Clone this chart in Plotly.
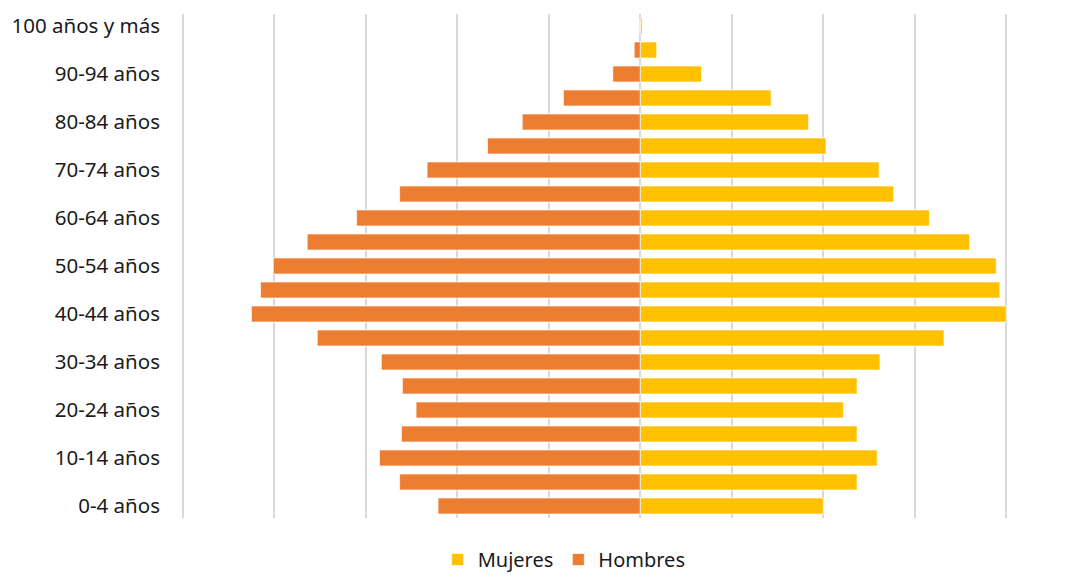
import plotly.graph_objects as go

edades = ["0-4 años", "5-9 años", "10-14 años", "15-19 años", "20-24 años", "25-29 años",
          "30-34 años", "35-39 años", "40-44 años", "45-49 años", "50-54 años", "55-59 años",
          "60-64 años", "65-69 años", "70-74 años", "75-79 años", "80-84 años", "85-89 años",
          "90-94 años", "95-99 años", "100 años y más"]

mujeres = [2.00, 2.37, 2.59, 2.37, 2.22, 2.37, 2.62, 3.32, 4.00, 3.93, 3.89, 3.60,
           3.16, 2.77, 2.61, 2.03, 1.84, 1.43, 0.67, 0.18, 0.02]

hombres = [2.21, 2.63, 2.85, 2.61, 2.45, 2.60, 2.83, 3.53, 4.25, 4.15, 4.01, 3.64,
           3.10, 2.63, 2.33, 1.67, 1.29, 0.84, 0.30, 0.066, 0.005]

etiquetas = edades[::2]

fig = go.Figure()
fig.add_trace(go.Bar(
    y=edades, x=mujeres, orientation="h", name="Mujeres",
    marker=dict(color="#FFC000", line=dict(color="rgba(255,255,255,0.7)", width=1)),
))
fig.add_trace(go.Bar(
    y=edades, x=[-v for v in hombres], orientation="h", name="Hombres",
    marker=dict(color="#ED7D31", line=dict(color="rgba(255,255,255,0.7)", width=1)),
))

fig.update_layout(
    width=1087, height=578,
    margin=dict(l=179.5, r=78, t=14, b=60),
    barmode="relative", bargap=0.33,
    plot_bgcolor="white", paper_bgcolor="white",
    font=dict(family="Noto Sans", size=20.5, color="#1a1a1a"),
    xaxis=dict(range=[-5.03, 4.03], tick0=0, dtick=1, showticklabels=False, showgrid=True,
               gridcolor="#D9D9D9", gridwidth=1.5, zeroline=False, showline=False,
               automargin=False),
    yaxis=dict(categoryorder="array", categoryarray=edades, tickmode="array",
               tickvals=etiquetas, ticktext=etiquetas, showgrid=False, zeroline=False,
               showline=False, ticks="", ticklabelstandoff=19, automargin=False),
    legend=dict(orientation="h", x=0.519, xref="container", xanchor="center",
                y=0.032, yref="container", yanchor="middle",
                font=dict(size=20), traceorder="normal", itemwidth=30),
    showlegend=True,
)

fig.write_html("out.html")
